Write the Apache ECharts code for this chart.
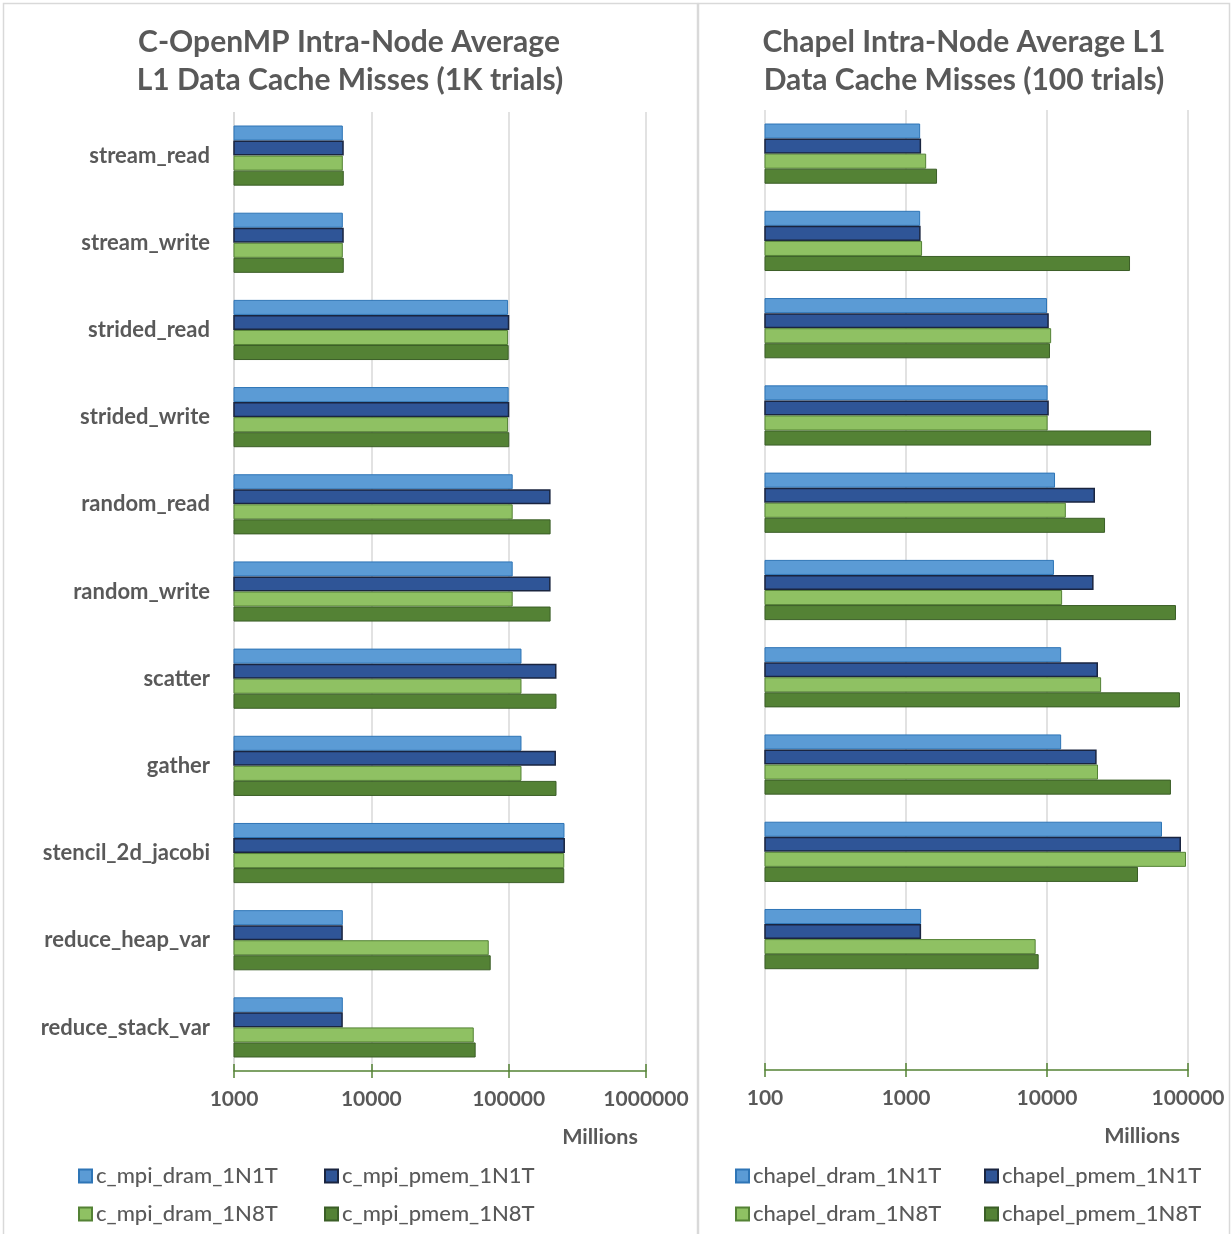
<!DOCTYPE html>
<html>
<head>
<meta charset="utf-8">
<title>Intra-Node Average L1 Data Cache Misses</title>
<script src="https://cdn.jsdelivr.net/npm/echarts@6/dist/echarts.min.js"></script>
<style>
  html, body { margin: 0; padding: 0; background: #fff; }
  #chart { width: 1231px; height: 1234px; }
</style>
</head>
<body>
<div id="chart"></div>
<script>
// categories, top to bottom
var benchmarks = ['stream_read', 'stream_write', 'strided_read', 'strided_write', 'random_read',
    'random_write', 'scatter', 'gather', 'stencil_2d_jacobi', 'reduce_heap_var', 'reduce_stack_var'];

// C-OpenMP (Millions)
var cDram1N1T = [6200, 6200, 99000, 100000, 107000, 107000, 124000, 124000, 255000, 6200, 6200];
var cPmem1N1T = [6300, 6300, 101000, 101000, 202000, 202000, 223000, 221000, 257000, 6200, 6200];
var cDram1N8T = [6200, 6200, 99000, 99000, 107000, 107000, 124000, 124000, 254000, 71600, 55700];
var cPmem1N8T = [6300, 6300, 100000, 101000, 202000, 202000, 223000, 223000, 254000, 74000, 57500];

// Chapel (Millions), no chapel run for reduce_stack_var
var chDram1N1T = [1260, 1260, 10000, 10100, 11400, 11200, 12600, 12600, 65400, 1280, '-'];
var chPmem1N1T = [1280, 1270, 10300, 10300, 21900, 21400, 23000, 22500, 89200, 1280, '-'];
var chDram1N8T = [1390, 1300, 10700, 10100, 13600, 12800, 24200, 23000, 96800, 8310, '-'];
var chPmem1N8T = [1660, 38800, 10500, 54700, 25800, 82200, 87700, 75700, 44200, 8730, '-'];

var cTicks = [1000, 1000000];
var chTicks = [100, 100000];

var txt = '#595959';
var fontFam = 'Lato, "Open Sans", sans-serif';

var styles = [
    { color: '#5B9BD5', borderColor: '#2E75B6', borderWidth: 1 },
    { color: '#2F5597', borderColor: '#1A2540', borderWidth: 1.5 },
    { color: '#8FC163', borderColor: '#548235', borderWidth: 1 },
    { color: '#548235', borderColor: '#3B5E27', borderWidth: 1 }
];

function mkSeries(name, data, idx, axisIdx) {
    return {
        name: name,
        type: 'bar',
        xAxisIndex: axisIdx,
        yAxisIndex: axisIdx,
        data: data,
        barGap: '0%',
        barCategoryGap: '31%',
        itemStyle: styles[idx]
    };
}

function mkXAxis(gridIdx, range, withLabels) {
    return {
        type: 'log',
        logBase: 10,
        gridIndex: gridIdx,
        position: 'bottom',
        min: range[0],
        max: range[1],
        axisLine: { show: withLabels, lineStyle: { color: '#548235', width: 1.5 } },
        axisTick: { show: true, inside: !withLabels, length: 7, lineStyle: { color: '#548235', width: 1.5 } },
        axisLabel: {
            show: withLabels,
            margin: 18,
            color: txt,
            fontSize: 21,
            fontWeight: 'bold',
            fontFamily: fontFam,
            formatter: function (v) { return String(Math.round(v)); }
        },
        splitLine: { show: withLabels, lineStyle: { color: '#D9D9D9', width: 1.5 } }
    };
}

function mkYAxis(gridIdx, showLabels) {
    return {
        type: 'category',
        gridIndex: gridIdx,
        inverse: true,
        data: benchmarks,
        axisLine: { show: false },
        axisTick: { show: false },
        axisLabel: {
            show: showLabels,
            margin: 24,
            color: txt,
            fontSize: 22,
            fontWeight: 'bold',
            fontFamily: fontFam
        }
    };
}

function mkLegend(name, x, y) {
    return {
        data: [name],
        left: x,
        top: y,
        padding: 0,
        icon: 'rect',
        itemWidth: 13,
        itemHeight: 13,
        itemGap: 0,
        textStyle: { color: txt, fontSize: 22, fontWeight: 500, fontFamily: fontFam, padding: [0, 0, 0, -1] }
    };
}

function mkText(str, x, y, size) {
    return {
        type: 'text',
        style: {
            text: str, x: x, y: y,
            textAlign: 'center', textVerticalAlign: 'middle',
            fill: txt,
            font: 'bold ' + size + 'px ' + fontFam
        }
    };
}

var chart = echarts.init(document.getElementById('chart'));

var option = {
    backgroundColor: '#fff',
    animation: false,
    grid: [
        { left: 234, top: 112, width: 412, height: 959 },
        { left: 765, top: 110, width: 423, height: 960 }
    ],
    xAxis: [
        mkXAxis(0, cTicks, true),
        mkXAxis(1, chTicks, true),
        mkXAxis(0, cTicks, false),
        mkXAxis(1, chTicks, false)
    ],
    yAxis: [mkYAxis(0, true), mkYAxis(1, false)],
    legend: [
        mkLegend('c_mpi_dram_1N1T', 78, 1165),
        mkLegend('c_mpi_pmem_1N1T', 324, 1165),
        mkLegend('c_mpi_dram_1N8T', 78, 1203),
        mkLegend('c_mpi_pmem_1N8T', 324, 1203),
        mkLegend('chapel_dram_1N1T', 735, 1165),
        mkLegend('chapel_pmem_1N1T', 984, 1165),
        mkLegend('chapel_dram_1N8T', 735, 1203),
        mkLegend('chapel_pmem_1N8T', 984, 1203)
    ],
    series: [
        mkSeries('c_mpi_dram_1N1T', cDram1N1T, 0, 0),
        mkSeries('c_mpi_pmem_1N1T', cPmem1N1T, 1, 0),
        mkSeries('c_mpi_dram_1N8T', cDram1N8T, 2, 0),
        mkSeries('c_mpi_pmem_1N8T', cPmem1N8T, 3, 0),
        mkSeries('chapel_dram_1N1T', chDram1N1T, 0, 1),
        mkSeries('chapel_pmem_1N1T', chPmem1N1T, 1, 1),
        mkSeries('chapel_dram_1N8T', chDram1N8T, 2, 1),
        mkSeries('chapel_pmem_1N8T', chPmem1N8T, 3, 1)
    ],
    graphic: [
        // panel frames
        { type: 'rect', shape: { x: 3.5, y: 3.5, width: 694, height: 1240 }, style: { fill: null, stroke: '#D9D9D9', lineWidth: 1.5 } },
        { type: 'rect', shape: { x: 698.5, y: 3.5, width: 531, height: 1240 }, style: { fill: null, stroke: '#D9D9D9', lineWidth: 1.5 } },
        mkText('C-OpenMP Intra-Node Average', 349, 42, 30),
        mkText('L1 Data Cache Misses (1K trials)', 350, 80, 30),
        mkText('Chapel Intra-Node Average L1', 964, 42, 30),
        mkText('Data Cache Misses (100 trials)', 964, 80, 30),
        mkText('Millions', 600, 1137, 21.5),
        mkText('Millions', 1142, 1136, 21.5)
    ]
};

chart.setOption(option);
</script>
</body>
</html>
